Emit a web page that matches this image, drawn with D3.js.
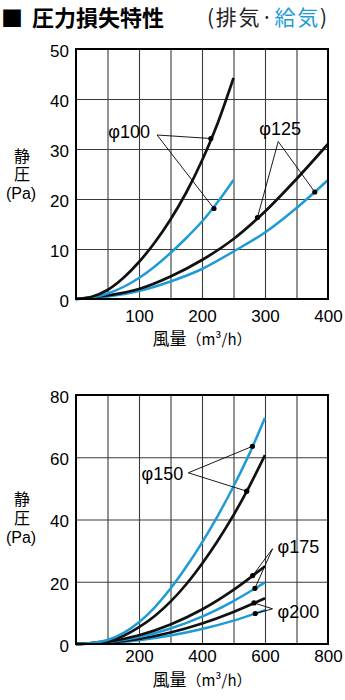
<!DOCTYPE html>
<html>
<head>
<meta charset="utf-8">
<script src="https://cdn.jsdelivr.net/npm/d3@7"></script>
<style>
  html, body { margin: 0; padding: 0; background: #fff; }
  svg { display: block; }
</style>
</head>
<body>
<svg id="chart" width="345" height="700"></svg>
<script>
// ---- 上段：φ100 / φ125（風量 m³/h → 静圧 Pa）----
const airflow100 = [0, 25, 50, 75, 100, 125, 150, 175, 200, 225, 250];
const exhaust100 = [0, 0.45, 1.8, 4.2, 7.4, 11.3, 15.9, 21.3, 27.7, 35.2, 44.2];
const supply100  = [0, 0.3, 1.1, 2.4, 4.2, 6.5, 9.2, 12.2, 15.5, 19.4, 23.8];

const airflow125 = [0, 50, 100, 150, 200, 250, 300, 350, 400];
const exhaust125 = [0, 0.7, 2.0, 4.5, 7.8, 12.0, 17.5, 24.0, 31.0];
const supply125  = [0, 0.5, 1.6, 3.5, 6.0, 9.5, 13.3, 18.2, 23.8];

// ---- 下段：φ150 / φ175 / φ200 ----
const airflow150 = [0, 50, 100, 150, 200, 250, 300, 350, 400, 450, 500, 550, 600];
const exhaust150 = [0, 0.3, 1.0, 2.6, 5.4, 9.0, 13.6, 19.2, 25.8, 33.2, 41.4, 50.6, 60.7];
const supply150  = [0, 0.3, 1.3, 3.5, 7.0, 11.8, 17.8, 24.8, 32.6, 41.2, 50.6, 61.0, 72.7];

const airflowLarge = [0, 100, 200, 300, 400, 500, 600];
const exhaust175 = [0, 0.7, 2.8, 6.3, 11.1, 17.4, 25.0];
const supply175  = [0, 0.55, 2.2, 5.0, 8.8, 13.8, 19.8];
const exhaust200 = [0, 0.4, 1.6, 3.7, 6.6, 10.3, 14.7];
const supply200  = [0, 0.3, 1.2, 2.7, 4.8, 7.5, 10.9];

// ---- 目盛 ----
const topXTicks = [100, 200, 300, 400];
const topYTicks = [0, 10, 20, 30, 40, 50];
const bottomXTicks = [200, 400, 600, 800];
const bottomYTicks = [0, 20, 40, 60, 80];

// ---- 引出線の先の点（風量, 静圧）----
const markers100 = [[214, 32.1], [219, 18.1]];
const markers125 = [[288, 16.3], [379, 21.4]];
const markers150 = [[560, 63.5], [542, 49.1]];
const markers175 = [[561, 22.0], [568, 17.9]];
const markers200 = [[565, 13.2], [569, 9.8]];

const BLACK = "#111";
const BLUE = "#1e9bd7";
const NUM_FONT = "'Liberation Sans', Arial, sans-serif";
const JP_FONT = "'Noto Sans CJK JP', 'Noto Sans', sans-serif";

const svg = d3.select("#chart");

// ---- 見出し ----
svg.append("text")
  .attr("x", 1).attr("y", 26)
  .attr("font-family", JP_FONT).attr("font-weight", 700).attr("font-size", 22)
  .attr("fill", "#000")
  .text("■");
svg.append("text")
  .attr("x", 32).attr("y", 26)
  .attr("font-family", JP_FONT).attr("font-weight", 700).attr("font-size", 22)
  .attr("fill", "#000")
  .text("圧力損失特性");
const sub = svg.append("text")
  .attr("x", 207).attr("y", 25)
  .attr("font-family", JP_FONT).attr("font-size", 21)
  .attr("textLength", 120).attr("lengthAdjust", "spacing")
  .attr("fill", "#222");
sub.append("tspan").text("(排気·");
sub.append("tspan").attr("fill", BLUE).text("給気");
sub.append("tspan").text(")");

function drawPanel(p) {
  const x = d3.scaleLinear().domain([0, p.xMax]).range([p.left, p.right]);
  const y = d3.scaleLinear().domain([0, p.yMax]).range([p.bottom, p.top]);
  const h = p.bottom - p.top;
  const w = p.right - p.left;

  // 格子
  svg.append("g")
    .attr("transform", `translate(0,${p.bottom})`)
    .call(d3.axisBottom(x).tickValues(d3.range(p.xGrid, p.xMax, p.xGrid)).tickSize(-h).tickFormat(""))
    .call(g => g.select(".domain").remove())
    .selectAll("line").attr("stroke", "#3a3a3a").attr("stroke-width", 1.1);
  svg.append("g")
    .attr("transform", `translate(${p.left},0)`)
    .call(d3.axisLeft(y).tickValues(d3.range(p.yGrid, p.yMax, p.yGrid)).tickSize(-w).tickFormat(""))
    .call(g => g.select(".domain").remove())
    .selectAll("line").attr("stroke", "#3a3a3a").attr("stroke-width", 1.1);

  // 目盛ラベル
  svg.append("g")
    .attr("transform", `translate(0,${p.bottom})`)
    .call(d3.axisBottom(x).tickValues(p.xTicks).tickSize(0).tickPadding(p.xPad))
    .attr("font-family", NUM_FONT).attr("font-size", 17)
    .call(g => g.select(".domain").remove())
    .selectAll("text").attr("fill", "#000");
  svg.append("g")
    .attr("transform", `translate(${p.left},2)`)
    .call(d3.axisLeft(y).tickValues(p.yTicks).tickSize(0).tickPadding(7))
    .attr("font-family", NUM_FONT).attr("font-size", 17)
    .call(g => g.select(".domain").remove())
    .selectAll("text").attr("fill", "#000");

  // 曲線
  const line = d3.line()
    .x(d => x(d[0])).y(d => y(d[1]))
    .curve(d3.curveMonotoneX);
  p.series.forEach(s => {
    svg.append("path")
      .datum(s.xs.map((v, i) => [v, s.ys[i]]))
      .attr("d", line)
      .attr("fill", "none")
      .attr("stroke", s.color)
      .attr("stroke-width", s.color === BLUE ? 2.5 : 2.7)
      .attr("stroke-linejoin", "round")
      .attr("stroke-linecap", "butt");
  });

  // 枠
  svg.append("rect")
    .attr("x", p.left).attr("y", p.top)
    .attr("width", w).attr("height", h)
    .attr("fill", "none").attr("stroke", "#000").attr("stroke-width", 2);

  // 引出線と口径ラベル
  p.notes.forEach(n => {
    const ax = x(n.at[0]), ay = y(n.at[1]);
    n.points.forEach(pt => {
      svg.append("line")
        .attr("x1", ax).attr("y1", ay)
        .attr("x2", x(pt[0])).attr("y2", y(pt[1]))
        .attr("stroke", "#000").attr("stroke-width", 0.9);
    });
    n.points.forEach(pt => {
      svg.append("circle")
        .attr("cx", x(pt[0])).attr("cy", y(pt[1])).attr("r", 2.6)
        .attr("fill", "#000");
    });
    svg.append("text")
      .attr("x", ax + n.dx).attr("y", ay + n.dy)
      .attr("text-anchor", n.anchor)
      .attr("font-family", NUM_FONT).attr("font-size", 18)
      .attr("fill", "#000")
      .text(n.label);
  });

  // 軸タイトル（縦書きの「静圧」と単位）
  svg.append("text")
    .attr("x", 22).attr("y", p.yTitle[0])
    .attr("writing-mode", "vertical-rl")
    .attr("text-orientation", "upright")
    .attr("letter-spacing", p.yTitle[1])
    .attr("font-family", JP_FONT).attr("font-size", 16)
    .attr("fill", "#000")
    .text("静圧");
  svg.append("text")
    .attr("x", 21).attr("y", p.yTitle[2])
    .attr("text-anchor", "middle")
    .attr("dominant-baseline", "central")
    .attr("font-family", NUM_FONT).attr("font-size", 16)
    .attr("fill", "#000")
    .text("(Pa)");

  const xt = svg.append("text")
    .attr("x", (p.left + p.right) / 2).attr("y", p.xTitle)
    .attr("text-anchor", "middle")
    .attr("font-family", JP_FONT).attr("font-size", 17)
    .attr("fill", "#000");
  xt.append("tspan").text("風量");
  xt.append("tspan").attr("font-size", 15).text("（m³/h）");
}

drawPanel({
  left: 76, right: 328, top: 49, bottom: 299,
  xMax: 400, yMax: 50, xGrid: 50, yGrid: 10,
  xTicks: topXTicks, yTicks: topYTicks, xPad: 11,
  yTitle: [148, 2, 193], xTitle: 345,
  series: [
    { xs: airflow125, ys: supply125, color: BLUE },
    { xs: airflow125, ys: exhaust125, color: BLACK },
    { xs: airflow100, ys: supply100, color: BLUE },
    { xs: airflow100, ys: exhaust100, color: BLACK }
  ],
  notes: [
    { label: "φ100", at: [128.6, 32.8], points: markers100, dx: -7, dy: 3, anchor: "end" },
    { label: "φ125", at: [321, 31.5], points: markers125, dx: 2, dy: -6.5, anchor: "middle" }
  ]
});

drawPanel({
  left: 76, right: 328, top: 395, bottom: 644,
  xMax: 800, yMax: 80, xGrid: 100, yGrid: 20,
  xTicks: bottomXTicks, yTicks: bottomYTicks, xPad: 6,
  yTitle: [491, 3, 537], xTitle: 686,
  series: [
    { xs: airflowLarge, ys: supply200, color: BLUE },
    { xs: airflowLarge, ys: exhaust200, color: BLACK },
    { xs: airflowLarge, ys: supply175, color: BLUE },
    { xs: airflowLarge, ys: exhaust175, color: BLACK },
    { xs: airflow150, ys: exhaust150, color: BLACK },
    { xs: airflow150, ys: supply150, color: BLUE }
  ],
  notes: [
    { label: "φ150", at: [356.5, 55.0], points: markers150, dx: -5, dy: 7, anchor: "end" },
    { label: "φ175", at: [624, 30.6], points: markers175, dx: 5, dy: 4, anchor: "start" },
    { label: "φ200", at: [624, 11.3], points: markers200, dx: 5, dy: 9, anchor: "start" }
  ]
});
</script>
</body>
</html>
